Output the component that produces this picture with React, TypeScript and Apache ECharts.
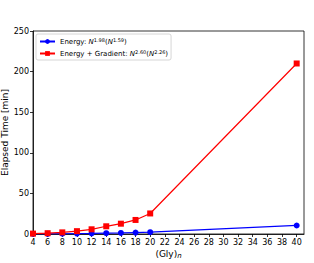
import React, { useEffect, useRef } from "react";
import * as echarts from "echarts";

const xValues = [4, 6, 8, 10, 12, 14, 16, 18, 20, 40];
const energy = [0.1, 0.2, 0.3, 0.5, 0.7, 1.0, 1.3, 1.7, 2.2, 10.5];
const energyGrad = [0.5, 1.0, 2.0, 3.5, 5.8, 9.5, 12.7, 17.3, 25.3, 210.0];
const xTicks = [4, 6, 8, 10, 12, 14, 16, 18, 20, 22, 24, 26, 28, 30, 32, 34, 36, 38, 40];
const seriesNames = ["Energy", "Energy + Gradient"];

const FONT = "DejaVu Sans";

export default function App() {
  const ref = useRef<HTMLDivElement>(null);
  useEffect(() => {
    if (!ref.current) return;
    const chart = echarts.init(ref.current, null, { renderer: "svg" });
    const rich = {
      t: { fontFamily: FONT, fontSize: 7, color: "#000" },
      i: { fontFamily: FONT, fontSize: 7, fontStyle: "italic", color: "#000" },
      sup: { fontFamily: FONT, fontSize: 5, color: "#000", padding: [0, 0, 4, 0] },
    };
    chart.setOption({
      animation: false,
      backgroundColor: "#fff",
      grid: {
        left: 33,
        right: 10,
        top: 31,
        bottom: 29,
        show: true,
        borderColor: "#000",
        borderWidth: 0.8,
        containLabel: false,
        outerBoundsMode: "none",
      },
      legend: {
        orient: "vertical",
        left: 36,
        top: 34,
        itemWidth: 15,
        itemHeight: 6,
        itemGap: 4,
        padding: [3, 3, 3, 3],
        borderColor: "#ccc",
        borderWidth: 0.8,
        borderRadius: 2,
        backgroundColor: "rgba(255,255,255,0.8)",
        data: seriesNames,
        formatter: (name: string) =>
          name === "Energy"
            ? "{t|Energy: }{i|N}{sup|1.98}{t|(}{i|N}{sup|1.59}{t|)}"
            : "{t|Energy + Gradient: }{i|N}{sup|2.60}{t|(}{i|N}{sup|2.26}{t|)}",
        textStyle: { rich, fontFamily: FONT, fontSize: 7 },
      },
      xAxis: {
        type: "value",
        min: 4,
        max: 41,
        interval: 2,
        name: "(Gly){sub|n}",
        nameLocation: "middle",
        nameGap: 14,
        nameMoveOverlap: false,
        nameTextStyle: {
          fontFamily: FONT,
          fontSize: 9,
          color: "#000",
          rich: {
            sub: { fontFamily: FONT, fontSize: 7, fontStyle: "italic", color: "#000", padding: [4, 0, 0, 0] },
          },
        },
        axisLine: { show: true, lineStyle: { color: "#000", width: 0.8 } },
        axisTick: { show: true, length: 3, lineStyle: { color: "#000", width: 0.8 }, customValues: xTicks },
        axisLabel: { fontFamily: FONT, fontSize: 8, color: "#000", margin: 4, customValues: xTicks },
        splitLine: { show: false },
      },
      yAxis: {
        type: "value",
        min: 0,
        max: 250,
        interval: 50,
        name: "Elapsed Time [min]",
        nameLocation: "middle",
        nameGap: 24,
        nameMoveOverlap: false,
        nameTextStyle: { fontFamily: FONT, fontSize: 9, color: "#000" },
        axisLine: { show: true, lineStyle: { color: "#000", width: 0.8 } },
        axisTick: { show: true, length: 3, lineStyle: { color: "#000", width: 0.8 } },
        axisLabel: { fontFamily: FONT, fontSize: 8, color: "#000", margin: 4 },
        splitLine: { show: false },
      },
      series: [
        {
          name: seriesNames[0],
          type: "line",
          data: xValues.map((x, i) => [x, energy[i]]),
          symbol: "circle",
          symbolSize: 6,
          color: "#0000ff",
          lineStyle: { width: 1.2, color: "#0000ff" },
          itemStyle: { color: "#0000ff" },
          z: 2,
        },
        {
          name: seriesNames[1],
          type: "line",
          data: xValues.map((x, i) => [x, energyGrad[i]]),
          symbol: "rect",
          symbolSize: 6,
          color: "#ff0000",
          lineStyle: { width: 1.2, color: "#ff0000" },
          itemStyle: { color: "#ff0000" },
          z: 3,
        },
      ],
    });
    return () => chart.dispose();
  }, []);
  return (
    <div
      ref={ref}
      style={{ position: "absolute", left: 0, top: 0, width: 314, height: 263 }}
    />
  );
}
